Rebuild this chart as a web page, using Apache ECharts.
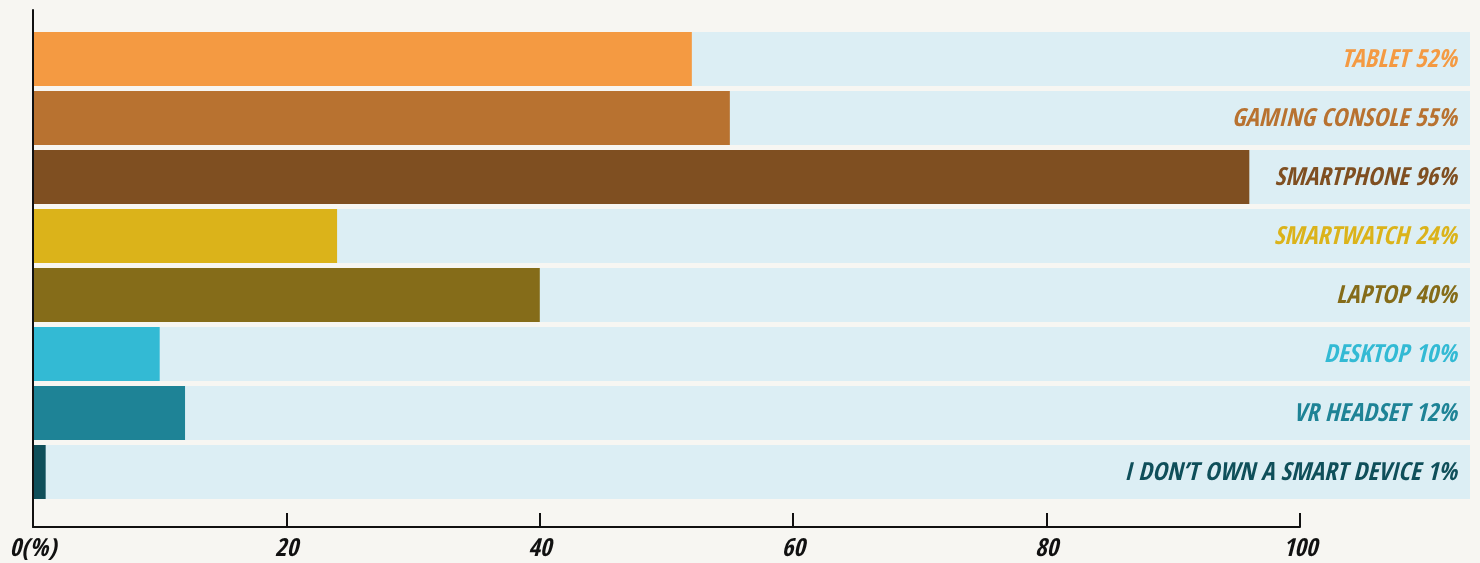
<!DOCTYPE html>
<html>
<head>
<meta charset="utf-8">
<script src="https://cdn.jsdelivr.net/npm/echarts@6/dist/echarts.min.js"></script>
<style>
  html, body { margin: 0; padding: 0; background: #F7F6F2; }
  #chart { width: 1480px; height: 563px; }
</style>
</head>
<body>
<div id="chart"></div>
<script>
// Device ownership, share of respondents (%)
const categories = ['TABLET', 'GAMING CONSOLE', 'SMARTPHONE', 'SMARTWATCH', 'LAPTOP', 'DESKTOP', 'VR HEADSET', 'I DON\u2019T OWN A SMART DEVICE'];
const values = [52, 55, 96, 24, 40, 10, 12, 1];
const colors = ['#F49A42', '#B87230', '#7F4F21', '#DBB31A', '#856C19', '#33BAD4', '#1E8396', '#0F4F5A'];
const tickValues = [0, 20, 40, 60, 80, 100];

const FONT = '"Open Sans Condensed", "Roboto Condensed", "DejaVu Sans Condensed", sans-serif';

// The track behind each bar runs past the 100 tick; both grids share one px-per-unit scale.
const AXIS_LEFT = 33, AXIS_RIGHT = 1300, TRACK_RIGHT = 1470;
const TRACK_MAX = 100 * (TRACK_RIGHT - AXIS_LEFT) / (AXIS_RIGHT - AXIS_LEFT);

const chart = echarts.init(document.getElementById('chart'), null, { renderer: 'canvas' });

const barCommon = { type: 'bar', xAxisIndex: 1, yAxisIndex: 1, barWidth: 54, barGap: '-100%' };

chart.setOption({
  backgroundColor: '#F7F6F2',
  animation: false,
  grid: [
    // frame with the scale
    { left: AXIS_LEFT, top: 10, width: AXIS_RIGHT - AXIS_LEFT, height: 517 },
    // bars
    { left: AXIS_LEFT, top: 29.5, width: TRACK_RIGHT - AXIS_LEFT, height: 472 }
  ],
  xAxis: [
    {
      gridIndex: 0, type: 'value', min: 0, max: 100, interval: 20, z: 10,
      axisLine: { show: true, lineStyle: { color: '#111', width: 2 } },
      axisTick: { show: true, inside: true, length: 14, lineStyle: { color: '#111', width: 2 } },
      splitLine: { show: false },
      axisLabel: {
        show: true, margin: 10, color: '#111',
        fontFamily: FONT, fontSize: 25, fontWeight: 'bold', fontStyle: 'italic',
        formatter: v => (tickValues.indexOf(v) === 0 ? v + '(%)' : String(v))
      }
    },
    { gridIndex: 1, type: 'value', min: 0, max: TRACK_MAX, show: false }
  ],
  yAxis: [
    {
      gridIndex: 0, type: 'value', min: 0, max: 1, z: 10,
      axisLine: { show: true, lineStyle: { color: '#111', width: 2 } },
      axisTick: { show: false }, axisLabel: { show: false }, splitLine: { show: false }
    },
    { gridIndex: 1, type: 'category', data: categories, inverse: true, show: false }
  ],
  series: [
    {
      // light track across the full width
      ...barCommon, name: 'track', silent: true,
      itemStyle: { color: '#DCEEF4' },
      data: categories.map(() => TRACK_MAX)
    },
    {
      ...barCommon, name: 'share',
      data: values.map((v, i) => ({ value: v, itemStyle: { color: colors[i] } }))
    },
    {
      // right-aligned captions, drawn above the bars
      ...barCommon, name: 'caption', silent: true,
      itemStyle: { color: 'rgba(0,0,0,0)' },
      data: categories.map((c, i) => ({ value: TRACK_MAX, label: { color: colors[i] } })),
      label: {
        show: true, position: 'insideRight', distance: 13, offset: [0, 1],
        fontFamily: FONT, fontSize: 25, fontWeight: 'bold', fontStyle: 'italic',
        formatter: p => categories[p.dataIndex] + ' ' + values[p.dataIndex] + '%'
      }
    }
  ]
});
</script>
</body>
</html>
